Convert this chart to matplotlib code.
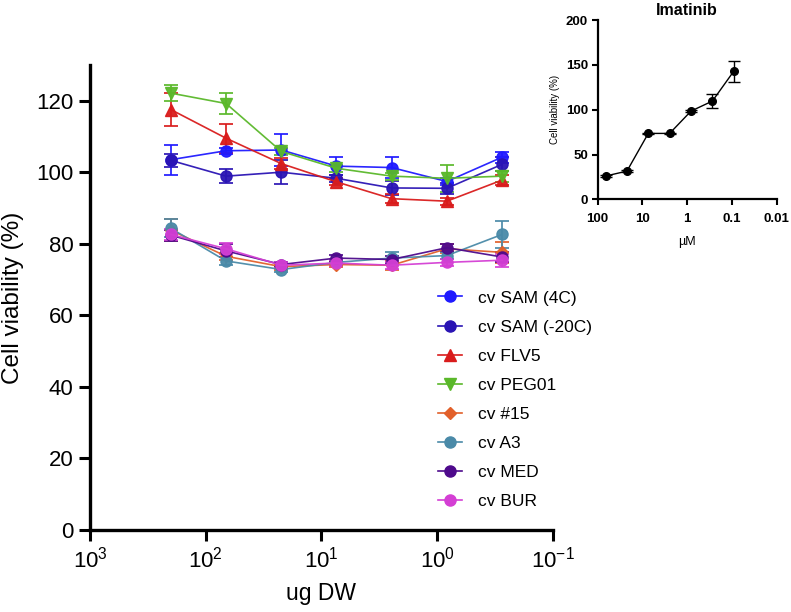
import numpy as np
import matplotlib
matplotlib.use("Agg")
import matplotlib.pyplot as plt
from matplotlib.lines import Line2D
from matplotlib.ticker import FixedLocator, NullLocator, FixedFormatter

plt.rcParams["font.family"] = ["Liberation Sans", "DejaVu Sans"]
plt.rcParams["mathtext.default"] = "regular"

# dose series (ug DW), 3-fold dilutions
doses = [200, 66.7, 22.2, 7.41, 2.47, 0.823, 0.274]

names = ["cv SAM (4C)", "cv SAM (-20C)", "cv FLV5", "cv PEG01",
         "cv #15", "cv A3", "cv MED", "cv BUR"]
colors = ["#1f1aff", "#2a14b4", "#d91c1c", "#5ab82a",
          "#e2602a", "#4a8aa8", "#4e0a8c", "#d43fd4"]
markers = ["o", "o", "^", "v", "D", "o", "o", "o"]

sam4 = [103.5, 106.0, 106.2, 101.7, 101.3, 97.4, 104.2]
sam4_err = [4.2, 0.8, 4.4, 2.5, 2.9, 1.0, 1.5]
sam20 = [103.3, 98.9, 100.0, 98.3, 95.6, 95.5, 102.2]
sam20_err = [1.8, 1.9, 3.3, 1.0, 2.0, 1.5, 2.0]
flv5 = [117.5, 109.5, 102.4, 97.3, 92.6, 91.9, 97.8]
flv5_err = [4.5, 4.0, 1.5, 1.0, 1.2, 1.0, 1.5]
peg01 = [122.1, 119.2, 105.8, 101.1, 98.9, 98.3, 98.9]
peg01_err = [2.2, 3.0, 1.0, 1.0, 1.0, 3.8, 1.5]
c15 = [83.8, 76.5, 73.6, 74.2, 74.0, 78.6, 77.6]
c15_err = [3.0, 1.0, 0.8, 0.8, 1.2, 1.2, 3.0]
a3 = [84.3, 75.2, 72.8, 74.8, 76.0, 76.7, 82.6]
a3_err = [2.5, 1.0, 0.8, 0.8, 1.8, 1.0, 3.7]
med = [82.4, 78.0, 74.2, 76.0, 75.6, 78.9, 76.3]
med_err = [1.5, 1.8, 0.8, 0.8, 1.0, 1.0, 1.5]
bur = [82.6, 78.6, 74.0, 74.6, 74.0, 74.8, 75.4]
bur_err = [1.5, 1.5, 0.8, 0.8, 1.0, 1.0, 1.8]

series = [sam4, sam20, flv5, peg01, c15, a3, med, bur]
errors = [sam4_err, sam20_err, flv5_err, peg01_err, c15_err, a3_err, med_err, bur_err]

# Imatinib inset (uM)
ima_conc = [66.7, 22.2, 7.41, 2.47, 0.823, 0.274, 0.0914]
ima_val = [26.0, 31.5, 73.6, 73.6, 98.5, 109.7, 143.0]
ima_err = [1.0, 1.0, 1.0, 1.0, 1.5, 7.5, 12.0]


def marker_size(m):
    return {"o": 8, "^": 8, "v": 8, "D": 6.5}[m]


fig = plt.figure(figsize=(7.91, 6.12), dpi=100)
ax = fig.add_axes([0.1138, 0.134, 0.585, 0.76])

handles = []
for y, e, name, c, m in zip(series, errors, names, colors, markers):
    ax.errorbar(doses, y, yerr=e, color=c, ecolor=c, elinewidth=1.3,
                capsize=5, capthick=1.3, lw=1.2, marker=m, ms=marker_size(m),
                alpha=0.95)
    handles.append(Line2D([], [], color=c, lw=1.2, marker=m, ms=marker_size(m), label=name))

ax.set_xscale("log")
ax.set_xlim(1000, 0.1)
ax.set_ylim(0, 130)
ax.xaxis.set_major_locator(FixedLocator([1000, 100, 10, 1, 0.1]))
ax.xaxis.set_major_formatter(FixedFormatter(["$10^{3}$", "$10^{2}$", "$10^{1}$", "$10^{0}$", "$10^{-1}$"]))
ax.xaxis.set_minor_locator(NullLocator())
ax.set_yticks([0, 20, 40, 60, 80, 100, 120])
for s in ["top", "right"]:
    ax.spines[s].set_visible(False)
for s in ["left", "bottom"]:
    ax.spines[s].set_linewidth(2.4)
ax.tick_params(width=2.2, length=8, labelsize=16, pad=4)
ax.set_xlabel("ug DW", fontsize=16.5, labelpad=7)
ax.set_ylabel("Cell viability (%)", fontsize=17.5, labelpad=9)

ax.legend(handles=handles, loc="upper left", bbox_to_anchor=(0.737, 0.53),
          frameon=False, fontsize=12.5, handlelength=1.4, handletextpad=0.9,
          labelspacing=0.8, borderaxespad=0)

# inset
ins = fig.add_axes([0.7556, 0.6743, 0.2264, 0.2927])
ins.errorbar(ima_conc, ima_val, yerr=ima_err, color="black", lw=1.0,
             marker="o", ms=5.5, capsize=4, elinewidth=1.0, capthick=1.0)
ins.set_xscale("log")
ins.set_xlim(100, 0.01)
ins.set_ylim(0, 200)
ins.xaxis.set_major_locator(FixedLocator([100, 10, 1, 0.1, 0.01]))
ins.xaxis.set_major_formatter(FixedFormatter(["100", "10", "1", "0.1", "0.01"]))
ins.xaxis.set_minor_locator(NullLocator())
ins.set_yticks([0, 50, 100, 150, 200])
for s in ["top", "right"]:
    ins.spines[s].set_visible(False)
for s in ["left", "bottom"]:
    ins.spines[s].set_linewidth(1.6)
ins.tick_params(width=1.5, length=4.5, labelsize=9.5, pad=2.5)
ins.tick_params(axis="x", pad=5)
for lab in ins.get_xticklabels() + ins.get_yticklabels():
    lab.set_fontweight("bold")
ins.set_title("Imatinib", fontsize=11.5, fontweight="bold", pad=4)
ins.set_xlabel("\u00b5M", fontsize=9, labelpad=8)
ins.set_ylabel("Cell viability (%)", fontsize=7, labelpad=4)

fig.savefig("out.png", dpi=100)
